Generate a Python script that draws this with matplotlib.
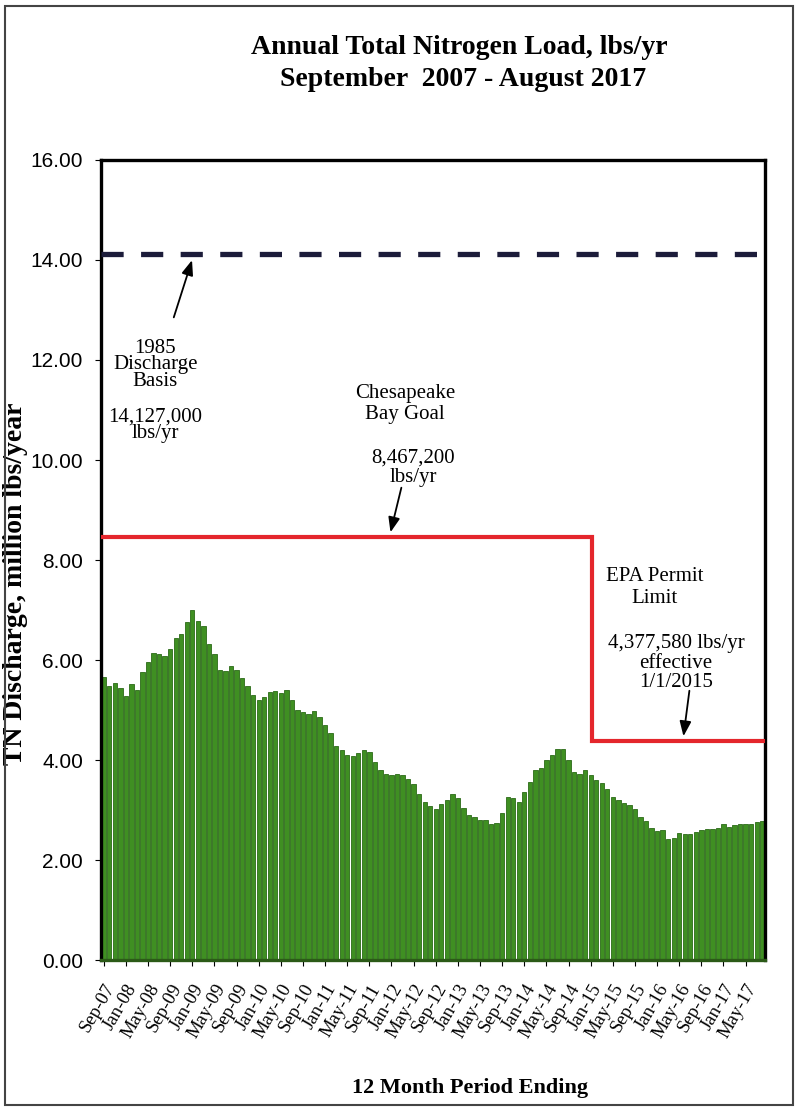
import matplotlib
matplotlib.use("Agg")
import matplotlib.pyplot as plt
from matplotlib.patches import Rectangle

# monthly 12-month rolling TN load, million lbs/yr, Sep-07 .. Aug-17
loads = [5.67, 5.48, 5.55, 5.44, 5.28, 5.53, 5.41, 5.77, 5.97, 6.15, 6.13, 6.08,
         6.23, 6.45, 6.53, 6.77, 7.00, 6.78, 6.68, 6.32, 6.13, 5.80, 5.79, 5.89,
         5.80, 5.65, 5.48, 5.31, 5.21, 5.27, 5.37, 5.39,
         5.35, 5.40, 5.21, 5.00, 4.97, 4.92, 4.98, 4.87, 4.70, 4.55, 4.28, 4.20,
         4.10, 4.09, 4.15, 4.20, 4.17, 3.97, 3.80, 3.73, 3.70, 3.72, 3.70, 3.63,
         3.53, 3.33, 3.17, 3.08, 3.03,
         3.12, 3.20, 3.32, 3.25, 3.05, 2.90, 2.87, 2.80, 2.80, 2.72, 2.75, 2.95,
         3.27, 3.25, 3.17, 3.37, 3.57, 3.80, 3.85, 4.01, 4.10, 4.23, 4.23, 4.00,
         3.77, 3.73, 3.81, 3.70, 3.60,
         3.55, 3.43, 3.27, 3.21, 3.15, 3.10, 3.03, 2.87, 2.79, 2.65, 2.59, 2.61,
         2.43, 2.45, 2.55, 2.52, 2.53, 2.57, 2.60, 2.63, 2.63, 2.65, 2.72, 2.67,
         2.70, 2.73, 2.73, 2.73, 2.77, 2.78]

tick_labels = ["Sep-07", "Jan-08", "May-08", "Sep-09", "Jan-09", "May-09", "Sep-09",
               "Jan-10", "May-10", "Sep-10", "Jan-11", "May-11", "Sep-11", "Jan-12",
               "May-12", "Sep-12", "Jan-13", "May-13", "Sep-13", "Jan-14", "May-14",
               "Sep-14", "Jan-15", "May-15", "Sep-15", "Jan-16", "May-16", "Sep-16",
               "Jan-17", "May-17"]

basis_1985 = 14.127
bay_goal = 8.4672
epa_limit = 4.37758
epa_start = 88.25   # 1/1/2015, between bar positions

serif = "Liberation Serif"
sans = "Liberation Sans"

fig = plt.figure(figsize=(7.96, 11.09), dpi=100)
ax = fig.add_axes([101/796, 149/1109, 664/796, 800/1109])

x = list(range(len(loads)))
ax.bar(x, loads, width=0.78, color="#3f8f22", edgecolor="#2b6a17", linewidth=0.6, zorder=2)

n = len(loads)
ax.plot([-0.5, n - 0.5], [basis_1985, basis_1985], color="#1c1c3a", lw=3.8,
        dashes=(4.2, 3.3), zorder=3)
ax.plot([-0.5, epa_start, epa_start, n - 0.5], [bay_goal, bay_goal, epa_limit, epa_limit],
        color="#e4262c", lw=3.0, zorder=3, solid_joinstyle="miter")

ax.set_xlim(-0.5, n - 0.5)
ax.set_ylim(0, 16)
ax.set_yticks([0, 2, 4, 6, 8, 10, 12, 14, 16])
ax.set_yticklabels(["%.2f" % v for v in [0, 2, 4, 6, 8, 10, 12, 14, 16]],
                   fontfamily=sans, fontsize=15)
ax.set_xticks(list(range(0, n, 4)))
ax.set_xticklabels(tick_labels, rotation=60, ha="right", rotation_mode="anchor",
                   fontfamily=serif, fontsize=13.5)
ax.tick_params(axis="both", direction="out", length=4, width=0.8)
ax.tick_params(axis="y", pad=9)
ax.tick_params(axis="x", pad=11)

for s in ax.spines.values():
    s.set_linewidth(2.4)
    s.set_color("black")
ax.spines["bottom"].set_color("#2b5a17")

ax.set_ylabel("TN Discharge, million lbs/year", fontfamily=serif, fontweight="bold",
              fontsize=20)
ax.yaxis.set_label_coords(-0.11, 0.47)

arrow = dict(arrowstyle="-|>,head_length=0.9,head_width=0.35", color="black", lw=1.3)
txt = dict(fontfamily=serif, fontsize=15, ha="center", va="center")

ax.text(9.3, 11.9, "1985\nDischarge\nBasis", linespacing=0.82, **txt)
ax.text(9.3, 10.7, "14,127,000\nlbs/yr", linespacing=0.82, **txt)
ax.annotate("", xy=(16.1, 14.05), xytext=(12.5, 12.8), arrowprops=arrow)

ax.text(54.4, 11.12, "Chesapeake\nBay Goal", linespacing=1.12, **txt)
ax.text(55.9, 9.84, "8,467,200\nlbs/yr", linespacing=1.02, **txt)
ax.annotate("", xy=(51.7, 8.5), xytext=(53.9, 9.5), arrowprops=arrow)

ax.text(99.6, 7.45, "EPA Permit\nLimit", linespacing=1.28, **txt)
ax.text(103.4, 5.94, "4,377,580 lbs/yr\neffective\n1/1/2015", linespacing=1.02, **txt)
ax.annotate("", xy=(104.7, 4.42), xytext=(105.9, 5.44), arrowprops=arrow)

fig.text(459/796, 1 - 47/1109, "Annual Total Nitrogen Load, lbs/yr", fontfamily=serif,
         fontweight="bold", fontsize=20, ha="center", va="center")
fig.text(463/796, 1 - 80/1109, "September  2007 - August 2017", fontfamily=serif,
         fontweight="bold", fontsize=20, ha="center", va="center")
fig.text(470/796, 1 - 1088/1109, "12 Month Period Ending", fontfamily=serif,
         fontweight="bold", fontsize=16, ha="center", va="center")

# page frame
fig.patches.append(Rectangle((5/796, 4/1109), 788/796, 1099/1109, transform=fig.transFigure,
                             fill=False, edgecolor="#444444", lw=1.5))

fig.savefig("out.png", dpi=100)
